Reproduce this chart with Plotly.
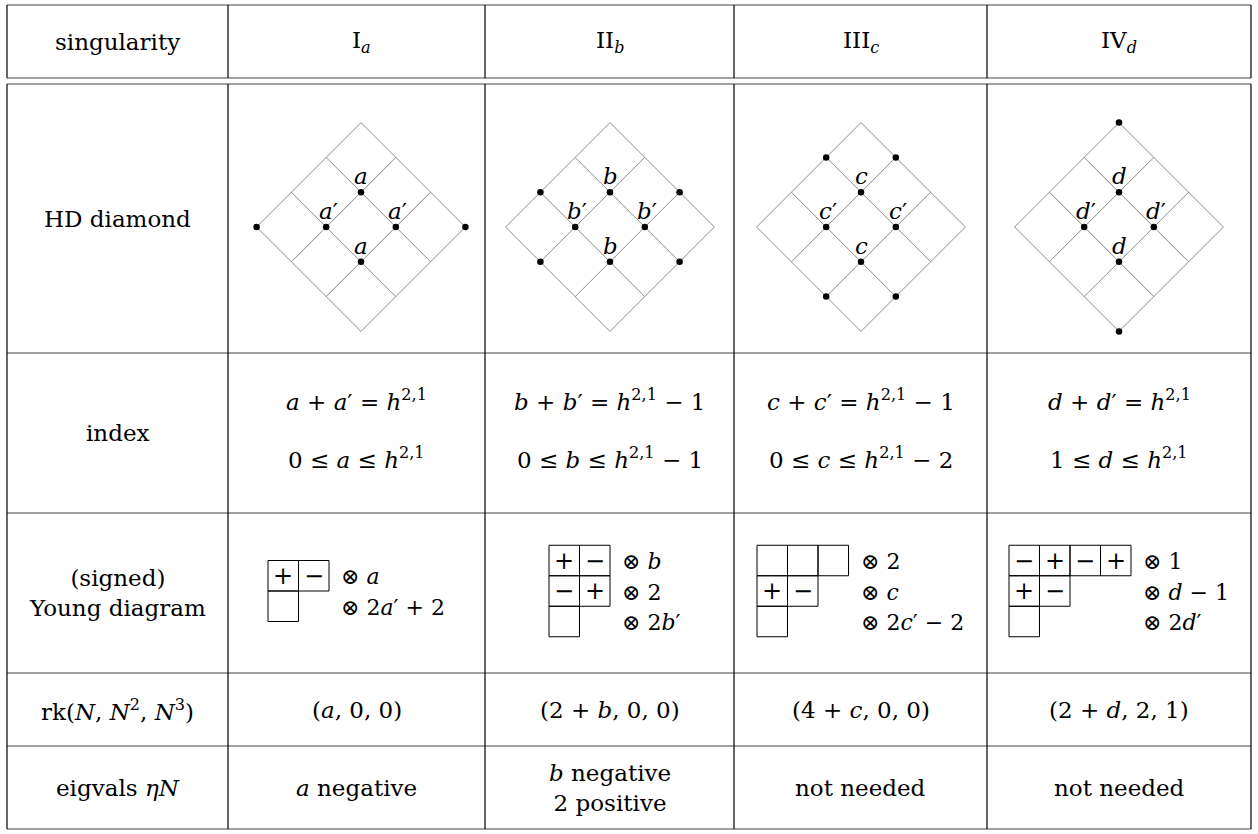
import plotly.graph_objects as go

# ---- table content ----
row_labels = ["singularity", "HD diamond", "index", "(signed)<br>Young diagram",
              "rk(<i>N</i>, <i>N</i><sup>2</sup>, <i>N</i><sup>3</sup>)",
              "eigvals <i>ηN</i>"]
sing_names = ["I", "II", "III", "IV"]
sing_letters = ["a", "b", "c", "d"]

# filled lattice points (p, q) of the Hodge diamond, p, q = 0..3
hd_dots = [
    [(0, 3), (3, 0), (1, 1), (1, 2), (2, 1), (2, 2)],
    [(0, 2), (1, 1), (2, 0), (1, 2), (2, 1), (1, 3), (2, 2), (3, 1)],
    [(0, 1), (1, 0), (1, 1), (1, 2), (2, 1), (2, 2), (2, 3), (3, 2)],
    [(0, 0), (1, 1), (1, 2), (2, 1), (2, 2), (3, 3)],
]
# labelled points: letter on (1,1),(2,2); primed letter on (1,2),(2,1)
hd_labels = [((1, 1), ""), ((2, 2), ""), ((1, 2), "′"), ((2, 1), "′")]

index_eq = [
    "<i>a</i> + <i>a</i>′ = <i>h</i><sup>2,1</sup>",
    "<i>b</i> + <i>b</i>′ = <i>h</i><sup>2,1</sup> − 1",
    "<i>c</i> + <i>c</i>′ = <i>h</i><sup>2,1</sup> − 1",
    "<i>d</i> + <i>d</i>′ = <i>h</i><sup>2,1</sup>",
]
index_range = [
    "0 ≤ <i>a</i> ≤ <i>h</i><sup>2,1</sup>",
    "0 ≤ <i>b</i> ≤ <i>h</i><sup>2,1</sup> − 1",
    "0 ≤ <i>c</i> ≤ <i>h</i><sup>2,1</sup> − 2",
    "1 ≤ <i>d</i> ≤ <i>h</i><sup>2,1</sup>",
]

young_boxes = [
    [["+", "−"], [""]],
    [["+", "−"], ["−", "+"], [""]],
    [["", "", ""], ["+", "−"], [""]],
    [["−", "+", "−", "+"], ["+", "−"], [""]],
]
young_mult = [
    ["⊗ <i>a</i>", "⊗ 2<i>a</i>′ + 2"],
    ["⊗ <i>b</i>", "⊗ 2", "⊗ 2<i>b</i>′"],
    ["⊗ 2", "⊗ <i>c</i>", "⊗ 2<i>c</i>′ − 2"],
    ["⊗ 1", "⊗ <i>d</i> − 1", "⊗ 2<i>d</i>′"],
]

ranks = ["(<i>a</i>, 0, 0)", "(2 + <i>b</i>, 0, 0)",
         "(4 + <i>c</i>, 0, 0)", "(2 + <i>d</i>, 2, 1)"]
eigvals = ["<i>a</i> negative", "<i>b</i> negative<br>2 positive",
           "not needed", "not needed"]

# ---- layout geometry (page pixels) ----
W, H = 1258, 834
col_edges = [7, 228, 485, 734, 987, 1251]
row_top, head_bot, head_bot2 = 5, 78, 84
row_edges = [84, 353, 513, 673, 746, 829]
diamond_cx = [361, 610, 861, 1119]
diamond_cy, step = 227, 34.8
young_x0 = [268, 549, 757, 1009]
young_cy, box = 591, 30.5

FONT = "DejaVu Serif"
FS = 23

fig = go.Figure()
ann = []


def text(x, y, s, size=FS, xanchor="center"):
    ann.append(dict(x=x, y=y, text=s, showarrow=False, xref="x", yref="y",
                    xanchor=xanchor, yanchor="middle",
                    font=dict(family=FONT, size=size, color="black")))


# table rules
hx, hy = [], []
for y in [row_top, head_bot, head_bot2] + row_edges[1:]:
    hx += [col_edges[0], col_edges[-1], None]
    hy += [y, y, None]
vx, vy = [], []
for x in col_edges:
    vx += [x, x, None, x, x, None]
    vy += [row_top, head_bot, None, head_bot2, row_edges[-1], None]

# row labels
c0 = (col_edges[0] + col_edges[1]) / 2
row_centers = [(row_top + head_bot) / 2] + [
    (row_edges[i] + row_edges[i + 1]) / 2 for i in range(len(row_edges) - 1)]
for lab, yc in zip(row_labels, row_centers):
    text(c0, yc, lab)

gx, gy = [], []   # diamond grid
dx, dy = [], []   # diamond dots
bx, by = [], []   # young boxes
for k in range(4):
    xc = (col_edges[k + 1] + col_edges[k + 2]) / 2
    L = sing_letters[k]
    # header
    text(diamond_cx[k], row_centers[0],
         f"{sing_names[k]}<sub><i>{L}</i></sub>")

    # Hodge diamond
    cx = diamond_cx[k]

    def pos(p, q):
        return cx + (p - q) * step, diamond_cy - 3 * step + (p + q) * step

    for m in range(4):
        for a, b in [(pos(m, 0), pos(m, 3)), (pos(0, m), pos(3, m))]:
            gx += [a[0], b[0], None]
            gy += [a[1], b[1], None]
    dx += [pos(p, q)[0] for p, q in hd_dots[k]]
    dy += [pos(p, q)[1] for p, q in hd_dots[k]]
    for (p, q), prime in hd_labels:
        px, py = pos(p, q)
        text(px + (2 if prime else 0), py - 16, f"<i>{L}</i>{prime}", size=FS)

    # index
    yc = row_centers[2]
    text(xc, yc - 33, index_eq[k])
    text(xc, yc + 25, index_range[k])

    # Young diagram
    rows = young_boxes[k]
    top = young_cy - len(rows) * box / 2
    for r, cells in enumerate(rows):
        for c, sgn in enumerate(cells):
            x0 = young_x0[k] + c * box
            y0 = top + r * box
            bx += [x0, x0 + box, x0 + box, x0, x0, None]
            by += [y0, y0, y0 + box, y0 + box, y0, None]
            if sgn:
                text(x0 + box / 2, y0 + box / 2, sgn, size=24)
    tx = young_x0[k] + len(rows[0]) * box + 10
    for r, s in enumerate(young_mult[k]):
        text(tx, top + r * box + box / 2 + 1, s, size=22, xanchor="left")

    # rank and eigenvalues
    text(xc, row_centers[4], ranks[k])
    text(xc, row_centers[5], eigvals[k])

fig.add_trace(go.Scatter(x=hx, y=hy, mode="lines", line=dict(color="#444", width=1.2),
                         hoverinfo="skip"))
fig.add_trace(go.Scatter(x=vx, y=vy, mode="lines", line=dict(color="black", width=1.2),
                         hoverinfo="skip"))
fig.add_trace(go.Scatter(x=gx, y=gy, mode="lines",
                         line=dict(color="#8c8c8c", width=1), hoverinfo="skip"))
fig.add_trace(go.Scatter(x=dx, y=dy, mode="markers",
                         marker=dict(color="black", size=6.5), hoverinfo="skip"))
fig.add_trace(go.Scatter(x=bx, y=by, mode="lines",
                         line=dict(color="black", width=1), hoverinfo="skip"))

fig.update_layout(
    width=W, height=H, margin=dict(l=0, r=0, t=0, b=0),
    paper_bgcolor="white", plot_bgcolor="white", showlegend=False,
    font=dict(family=FONT, size=FS, color="black"),
    xaxis=dict(range=[0, W], visible=False, fixedrange=True),
    yaxis=dict(range=[H, 0], visible=False, fixedrange=True),
    annotations=ann,
)
# drop the default 8px page margin so axis units equal page pixels
fig.write_html("out.html", config={"displayModeBar": False},
               post_script="document.body.style.margin='0';"
                           "document.body.style.overflow='hidden';")
